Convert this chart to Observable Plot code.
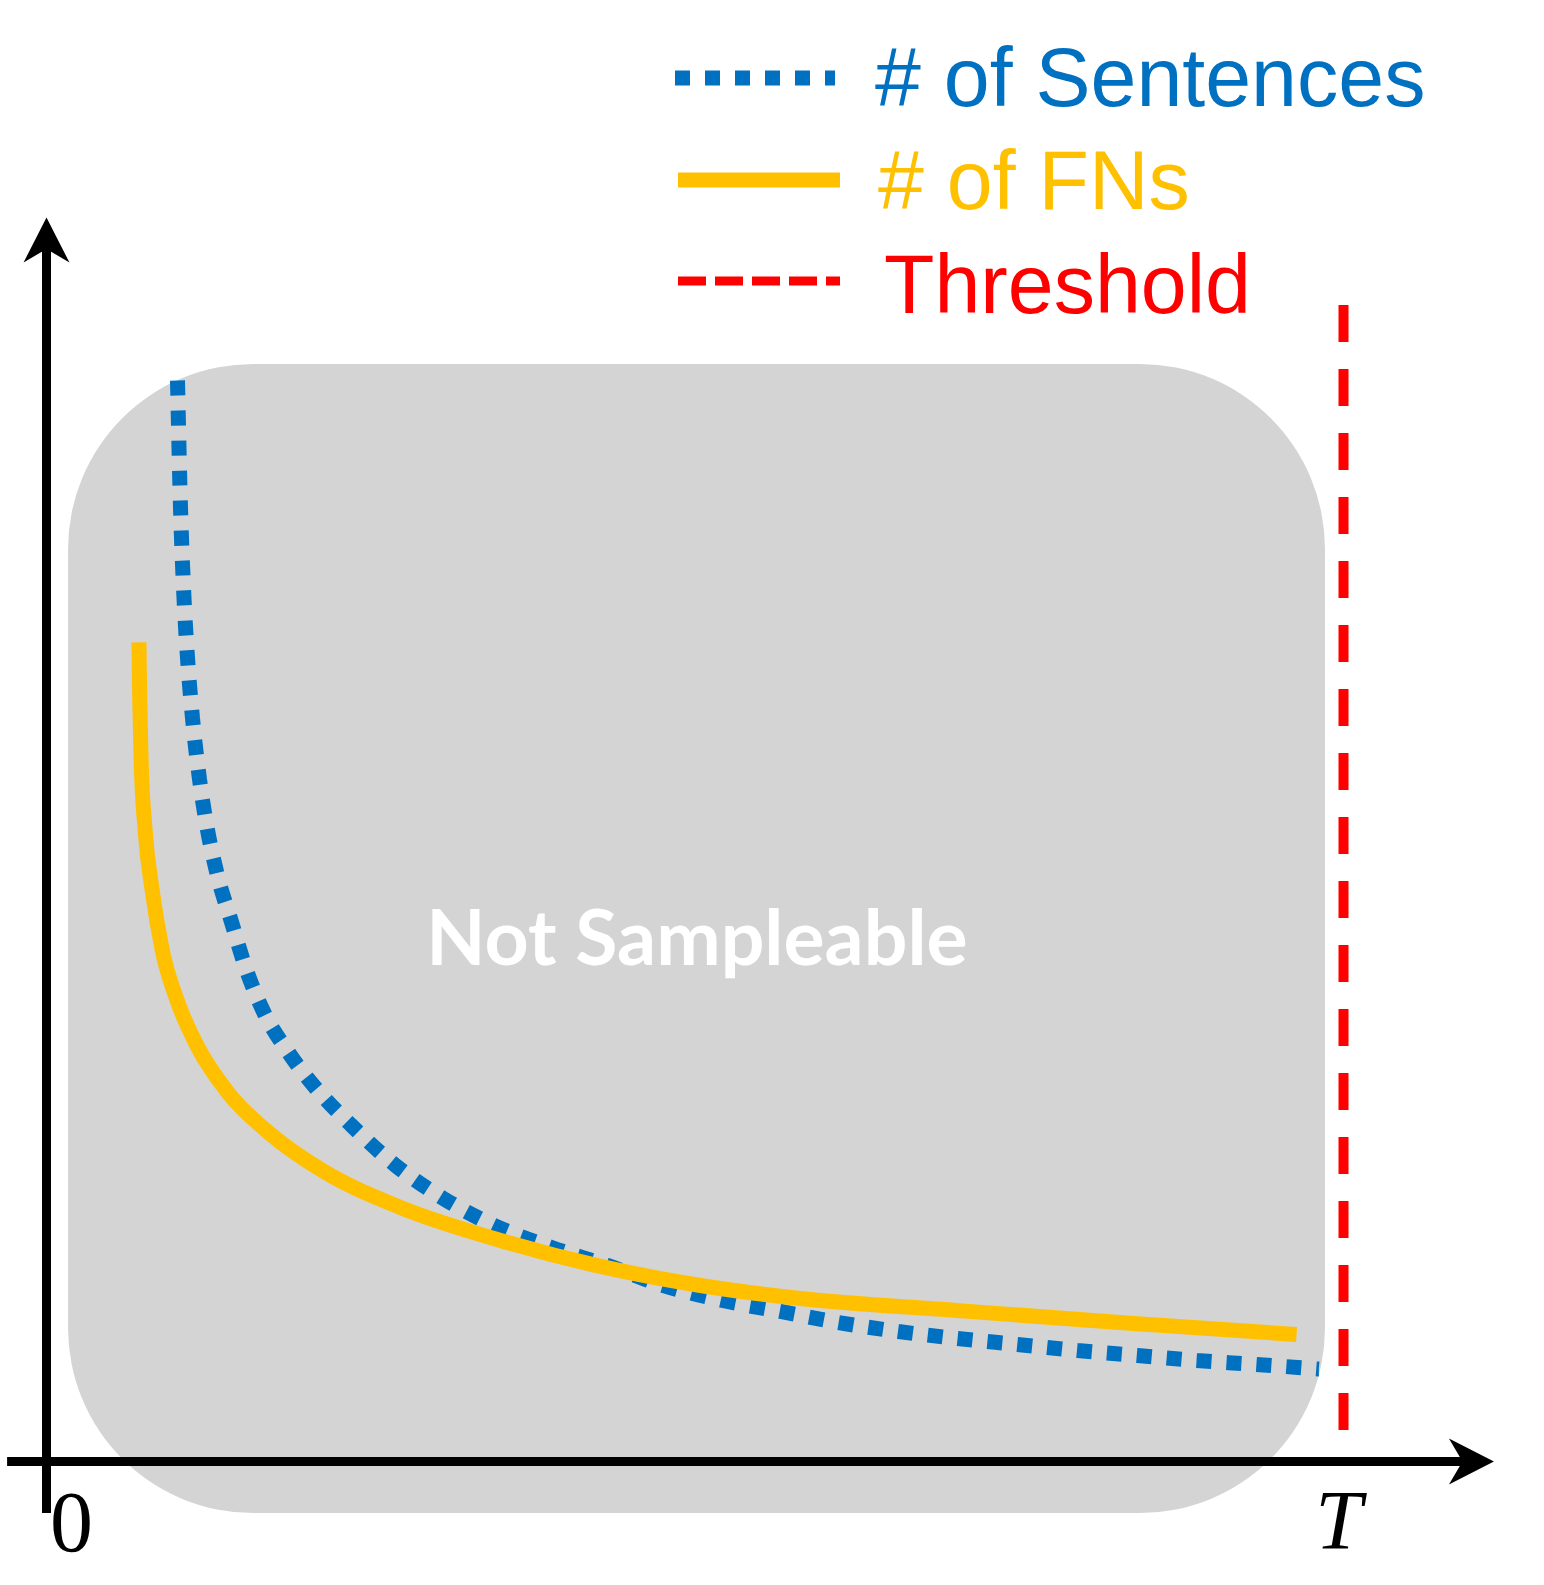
<!DOCTYPE html>
<html>
<head>
<meta charset="utf-8">
<script src="https://cdn.jsdelivr.net/npm/d3@7"></script>
<script src="https://cdn.jsdelivr.net/npm/@observablehq/plot@0.6"></script>
<style>
  html, body { margin: 0; padding: 0; background: #ffffff; }
  #wrap { position: relative; width: 1544px; height: 1585px; }
  #legend { position: absolute; left: 0; top: 0; pointer-events: none; }
</style>
</head>
<body>
<div id="wrap"></div>
<script>
// ---------- data (x: fraction of T in %, y: arbitrary count scale 0..100) ----------
const sentenceX = [10.10, 10.33, 10.56, 10.87, 11.26, 11.80, 12.41, 13.18, 14.23, 15.32, 16.73, 18.66, 21.40, 23.44, 26.83, 30.61, 34.7, 38.94, 43.25, 47.57, 52.12, 56.59, 61.06, 65.69, 70.24, 74.87, 79.49, 84.12, 88.67, 93.29, 98.1];
const sentenceY = [86.90, 76.77, 70.34, 64.63, 59.73, 54.82, 50.80, 47.11, 43.49, 39.79, 36.17, 32.88, 29.26, 27.09, 23.87, 21.14, 18.89, 17.2, 15.76, 14.15, 12.94, 12.06, 11.17, 10.45, 9.89, 9.41, 8.92, 8.52, 8.12, 7.8, 7.43];

const fnX = [7.13, 7.19, 7.29, 7.60, 8.15, 8.93, 10.10, 11.64, 13.99, 17.12, 21.40, 27.29, 35.0, 42.71, 50.42, 58.13, 70.16, 83.81, 96.38];
const fnY = [65.84, 61.17, 56.51, 50.80, 45.90, 41.08, 36.98, 33.36, 29.66, 26.45, 23.31, 20.42, 17.77, 15.68, 14.15, 13.1, 12.14, 11.09, 10.21];

const thresholdX = [100];            // T
const thresholdSpan = [2.33, 92.93]; // vertical extent of the threshold line
const regionX = [1.70, 98.61];       // "Not Sampleable" region
const regionY = [-4.18, 88.18];
const xAxisSpan = [-3.0, 111.6];
const yAxisSpan = [-4.18, 100];
const tickLabels = [{x: 0, label: "0", italic: false}, {x: 100, label: "T", italic: true}];
const regionLabel = "Not Sampleable";

const legendLabels = ["# of Sentences", "# of FNs", "Threshold"];
const legendColors = ["#0070C0", "#FFC000", "#FF0000"];

// ---------- tables ----------
const sentences = sentenceX.map((x, i) => ({x, y: sentenceY[i]}));
const fns = fnX.map((x, i) => ({x, y: fnY[i]}));
const region = [{x1: regionX[0], x2: regionX[1], y1: regionY[0], y2: regionY[1]}];

// stealth arrowhead symbol, tip at origin pointing up
const stealth = {
  draw(ctx, size) {
    const s = Math.sqrt(size / Math.PI);
    ctx.moveTo(0, 0);
    ctx.lineTo(0.51 * s, s);
    ctx.lineTo(0, 0.7 * s);
    ctx.lineTo(-0.51 * s, s);
    ctx.closePath();
  }
};

const chart = Plot.plot({
  width: 1544,
  height: 1585,
  marginLeft: 46,
  marginRight: 201,
  marginTop: 217,
  marginBottom: 124,
  x: {domain: [0, 100], axis: null},
  y: {domain: [0, 100], axis: null},
  style: {background: "#ffffff", overflow: "visible"},
  marks: [
    Plot.rect(region, {x1: "x1", x2: "x2", y1: "y1", y2: "y2", fill: "#d4d4d4", rx: 185}),
    Plot.text([regionLabel], {
      x: (regionX[0] + regionX[1]) / 2, y: (regionY[0] + regionY[1]) / 2,
      text: d => d, fill: "#ffffff", fontSize: 77, fontWeight: "bold",
      fontFamily: "Lato, 'Open Sans', sans-serif", textAnchor: "middle", lineAnchor: "middle", dy: 1
    }),
    // threshold
    Plot.ruleX(thresholdX, {y1: thresholdSpan[1], y2: thresholdSpan[0], stroke: "#FF0000", strokeWidth: 10, strokeDasharray: "37,27"}),
    // curves
    Plot.line(sentences, {x: "x", y: "y", stroke: "#0070C0", strokeWidth: 15, strokeDasharray: "15,15",
      strokeLinecap: "butt", strokeLinejoin: "miter", curve: "monotone-x"}),
    Plot.line(fns, {x: "x", y: "y", stroke: "#FFC000", strokeWidth: 15,
      strokeLinecap: "butt", curve: "monotone-x"}),
    // axes
    Plot.ruleY([0], {x1: xAxisSpan[0], x2: xAxisSpan[1] - 2.3, stroke: "#000", strokeWidth: 9}),
    Plot.ruleX([0], {y1: yAxisSpan[0], y2: yAxisSpan[1] - 2.5, stroke: "#000", strokeWidth: 9}),
    Plot.dot([{x: xAxisSpan[1], y: 0, r: 90}, {x: 0, y: yAxisSpan[1], r: 0}], {
      x: "x", y: "y", rotate: "r", symbol: stealth, r: 45, fill: "#000", stroke: "none"
    }),
    // tick labels
    Plot.text(tickLabels.filter(d => !d.italic), {x: "x", y: 0, text: "label", fontSize: 86,
      fontFamily: "'Liberation Serif', 'Times New Roman', serif", fill: "#000",
      textAnchor: "middle", lineAnchor: "bottom", dx: 25, dy: 89}),
    Plot.text(tickLabels.filter(d => d.italic), {x: "x", y: 0, text: "label", fontSize: 84,
      fontFamily: "'Liberation Serif', 'Times New Roman', serif", fontStyle: "italic", fill: "#000",
      textAnchor: "middle", lineAnchor: "bottom", dx: -5, dy: 87})
  ]
});

const wrap = document.getElementById("wrap");
wrap.appendChild(chart);

// ---------- legend (overlay) ----------
const legendStyles = [
  {width: 15, dash: "15,15"},
  {width: 15, dash: null},
  {width: 9, dash: "28,9"}
];
const lg = d3.create("svg").attr("id", "legend").attr("width", 1544).attr("height", 340);
const rowsY = [78, 180, 281];
const sampleX = [[675, 835], [678, 840], [678, 840]];
const textX = [875, 878, 884];
const textBase = [106, 209, 313];
legendLabels.forEach((label, i) => {
  const s = legendStyles[i];
  const ln = lg.append("line")
    .attr("x1", sampleX[i][0]).attr("x2", sampleX[i][1])
    .attr("y1", rowsY[i]).attr("y2", rowsY[i])
    .attr("stroke", legendColors[i]).attr("stroke-width", s.width);
  if (s.dash) ln.attr("stroke-dasharray", s.dash);
  lg.append("text")
    .attr("x", textX[i]).attr("y", textBase[i])
    .attr("fill", legendColors[i])
    .attr("font-family", "'Liberation Sans', Arial, sans-serif")
    .attr("font-size", 82.5)
    .text(label);
});
wrap.appendChild(lg.node());
</script>
</body>
</html>
